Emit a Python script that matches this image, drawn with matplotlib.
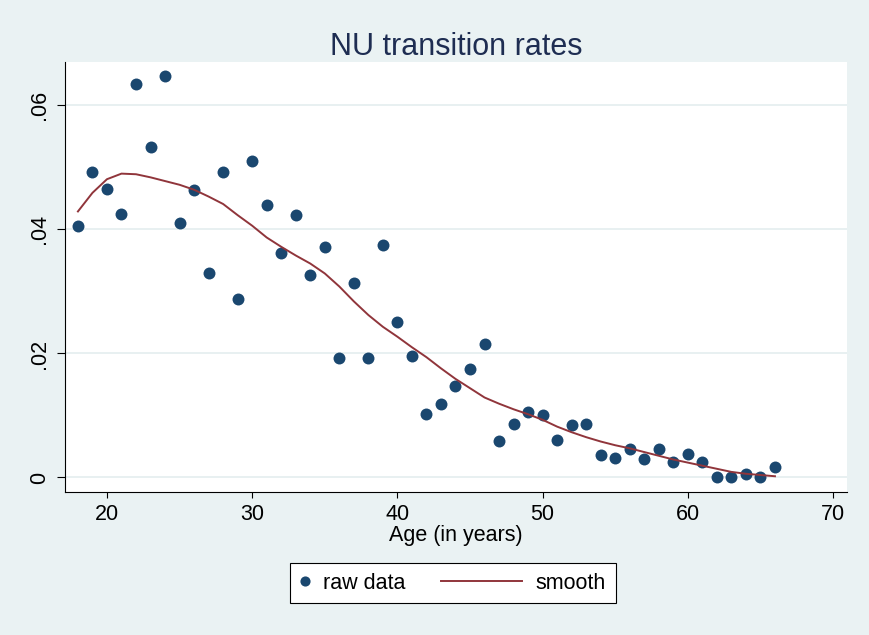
import matplotlib
matplotlib.use('Agg')
import matplotlib.pyplot as plt
from matplotlib.lines import Line2D
from matplotlib.legend_handler import HandlerBase

# ---- data ----
ages = list(range(18, 67))
raw_rate = [0.0406, 0.0493, 0.0465, 0.0425, 0.0634, 0.0533, 0.0647, 0.0411, 0.0463, 0.0329,
            0.0493, 0.0288, 0.0510, 0.0440, 0.0362, 0.0423, 0.0327, 0.0371, 0.0193, 0.0314,
            0.0192, 0.0375, 0.0251, 0.0196, 0.0103, 0.0119, 0.0148, 0.0175, 0.0215, 0.0059,
            0.0087, 0.0105, 0.0101, 0.0061, 0.0084, 0.0087, 0.0037, 0.0031, 0.0046, 0.0030,
            0.0046, 0.0025, 0.0038, 0.0025, 0.0000, 0.0000, 0.0005, 0.0000, 0.0017]
smooth_rate = [0.0429, 0.0459, 0.0481, 0.0490, 0.0489, 0.0484, 0.0478, 0.0472, 0.0464, 0.0453,
               0.0441, 0.0423, 0.0406, 0.0387, 0.0372, 0.0358, 0.0345, 0.0329, 0.0308, 0.0284,
               0.0262, 0.0243, 0.0227, 0.0210, 0.0194, 0.0176, 0.0159, 0.0144, 0.0129, 0.0119,
               0.0110, 0.0102, 0.0093, 0.0082, 0.0073, 0.0065, 0.0058, 0.0052, 0.0047, 0.0041,
               0.0035, 0.0029, 0.0024, 0.0019, 0.0014, 0.0009, 0.0006, 0.0004, 0.0002]
xticks = [20, 30, 40, 50, 60, 70]
yticks = [0, 0.02, 0.04, 0.06]
ytick_labels = ['0', '.02', '.04', '.06']
title = 'NU transition rates'
xlabel = 'Age (in years)'
labels = ['raw data', 'smooth']

# ---- style ----
BG = '#eaf2f3'
GRID = '#e4eeef'
NAVY = '#1a476f'
MAROON = '#90353b'
TITLE_C = '#1e2d52'
FS = 15.5

plt.rcParams['font.family'] = ['Liberation Sans', 'DejaVu Sans']

fig = plt.figure(figsize=(8.69, 6.35), dpi=100, facecolor=BG)
W, H = 869, 635
ax = fig.add_axes([65 / W, 1 - 492 / H, (847 - 65) / W, (492 - 62) / H])
ax.set_facecolor('white')
for s in ['top', 'right']:
    ax.spines[s].set_visible(False)
for s in ['left', 'bottom']:
    ax.spines[s].set_linewidth(0.8)
    ax.spines[s].set_color('black')

ax.set_xlim(17.11, 70.96)
ax.set_ylim(-0.00234, 0.0670)
ax.set_xticks(xticks)
ax.set_yticks(yticks, ytick_labels)
ax.grid(axis='y', color=GRID, lw=1.2)
ax.set_axisbelow(True)

pts, = ax.plot(ages, raw_rate, 'o', color=NAVY, ms=8.6, mew=0, label=labels[0], zorder=3)
ln, = ax.plot(ages, smooth_rate, color=MAROON, lw=1.4, label=labels[1], zorder=4)

ax.tick_params(axis='x', length=4.5, width=0.8, pad=4.3, labelsize=FS, colors='black')
ax.tick_params(axis='y', length=5.5, width=0.8, pad=5.5, labelsize=FS, labelrotation=90, colors='black')
for t in ax.get_yticklabels():
    t.set_va('center')

ax.set_xlabel(xlabel, fontsize=FS, labelpad=0)
ax.set_title(title, fontsize=22, color=TITLE_C, pad=4.75)


class LongLineHandler(HandlerBase):
    def create_artists(self, legend, orig_handle, xdescent, ydescent, width, height, fontsize, trans):
        y = height / 2 - ydescent
        l = Line2D([-3.30 * fontsize - xdescent, 0.46 * fontsize - xdescent], [y, y],
                   color=orig_handle.get_color(), lw=orig_handle.get_linewidth())
        l.set_transform(trans)
        return [l]


leg = fig.legend(handles=[pts, ln], labels=labels, ncol=2, loc='upper left',
                 bbox_to_anchor=(290 / W, 1 - 563 / H), bbox_transform=fig.transFigure,
                 borderaxespad=0, fontsize=FS, frameon=True, fancybox=False, shadow=False,
                 borderpad=0.45, handlelength=0.49, handletextpad=0.59, columnspacing=4.98,
                 markerscale=0.85, handler_map={ln: LongLineHandler()})
frame = leg.get_frame()
frame.set_facecolor('white')
frame.set_edgecolor('black')
frame.set_linewidth(0.8)
frame.set_alpha(1)

fig.savefig('out.png', dpi=100, facecolor=BG)
